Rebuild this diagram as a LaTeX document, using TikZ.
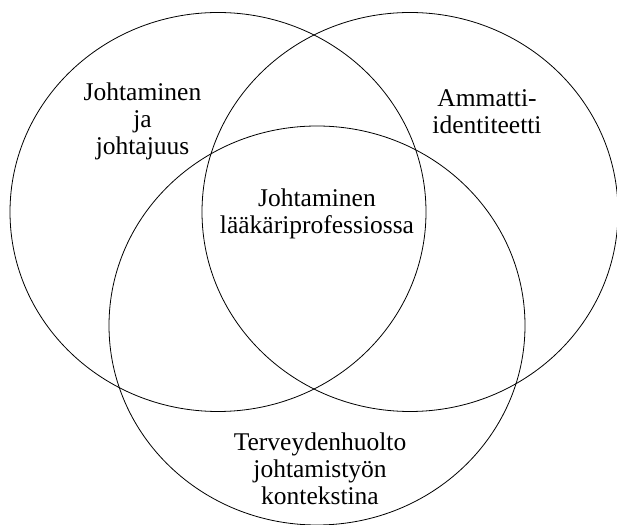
\documentclass[tikz,border=0pt]{standalone}
\usepackage{fontspec}
\setmainfont{Liberation Serif}
\usepackage{tikz}
\usetikzlibrary{shapes.geometric}

\begin{document}
\begin{tikzpicture}[
    x=1pt, y=1pt,
    font=\fontsize{25.5}{27}\selectfont,
    venn/.style={ellipse, draw=black, line width=0.8pt, inner sep=0pt, minimum width=416pt, minimum height=399pt},
    label/.style={align=center, inner sep=0pt}
]
\useasboundingbox (0,0) rectangle (617,524);

\node[venn] (Leading) at (218,312) {};
\node[venn] (Identity) at (410,312) {};
\node[venn] (Healthcare) at (317,198.5) {};

\node[label] (LeadingText) at (142.5,403) {Johtaminen\\ja\\johtajuus};
\node[label] (IdentityText) at (487,412) {Ammatti-\\identiteetti};
\node[label] (CoreText) at (317,310) {Johtaminen\\lääkäriprofessiossa};
\node[label] (HealthcareText) at (320,55) {Terveydenhuolto\\johtamistyön\\kontekstina};
\end{tikzpicture}
\end{document}
